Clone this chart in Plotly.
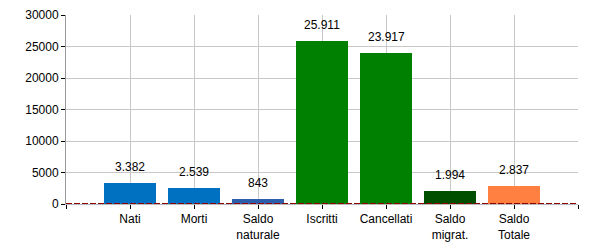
import plotly.graph_objects as go

categories = ["Nati", "Morti", "Saldo<br>naturale", "Iscritti", "Cancellati", "Saldo<br>migrat.", "Saldo<br>Totale"]
values = [3382, 2539, 843, 25911, 23917, 1994, 2837]
labels = ["3.382", "2.539", "843", "25.911", "23.917", "1.994", "2.837"]
colors = ["#0070C0", "#0070C0", "#2E5EAA", "#008000", "#008000", "#004F00", "#FF8040"]

positions = list(range(1, len(categories) + 1))

fig = go.Figure()
fig.add_trace(go.Bar(x=positions, y=values, marker=dict(color=colors, line=dict(width=0)),
                     width=0.8, hoverinfo="skip"))

for p, v, t in zip(positions, values, labels):
    fig.add_annotation(x=p, y=v, text=t, showarrow=False, yanchor="bottom", yshift=7,
                       font=dict(family="Liberation Sans, Arial", size=12, color="#000"))

fig.add_shape(type="line", xref="paper", x0=0, x1=1, yref="y", y0=0, y1=0,
              line=dict(color="#8B0000", width=2, dash="6px,2px"), layer="above")

fig.update_layout(
    width=600, height=250,
    margin=dict(l=66, r=22, t=15, b=46, autoexpand=False),
    paper_bgcolor="white", plot_bgcolor="white",
    showlegend=False,
    font=dict(family="Liberation Sans, Arial", size=12, color="#000"),
    bargap=0,
)
fig.update_xaxes(range=[0, 8], tickmode="array",
                 tickvals=[0] + positions + [8], ticktext=[""] + categories + [""],
                 showgrid=True, gridcolor="#C8C8C8", gridwidth=1,
                 ticks="outside", ticklen=4, tickcolor="#000",
                 showline=True, linecolor="#BBBBBB", zeroline=False, automargin=False,
                 tickfont=dict(size=12))
fig.update_yaxes(range=[0, 30000], tickvals=[0, 5000, 10000, 15000, 20000, 25000, 30000],
                 ticktext=["0", "5000", "10000", "15000", "20000", "25000", "30000"],
                 showgrid=True, gridcolor="#C8C8C8", gridwidth=1,
                 ticks="outside", ticklen=4, tickcolor="#000",
                 showline=True, linecolor="#999999", zeroline=False, automargin=False,
                 tickfont=dict(size=12))

fig.write_html("out.html")
